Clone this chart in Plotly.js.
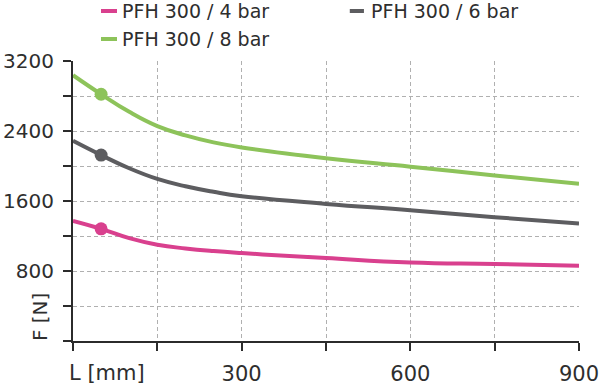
<!DOCTYPE html>
<html>
<head>
<meta charset="utf-8">
<script src="https://cdn.plot.ly/plotly-3.0.1.min.js"></script>
<style>html,body{margin:0;padding:0;background:#fff;}#chart{width:600px;height:387px;}</style>
</head>
<body>
<div id="chart"></div>
<script>
// Data
const lengthsMm = [0, 50, 100, 150, 200, 250, 300, 450, 600, 750, 900];
const force4bar = [1373, 1282, 1175, 1100, 1058, 1028, 1005, 948, 897, 880, 860];
const force6bar = [2288, 2125, 1974, 1852, 1768, 1705, 1655, 1567, 1495, 1415, 1343];
const force8bar = [3037, 2820, 2619, 2456, 2350, 2270, 2212, 2088, 1992, 1892, 1798];
const seriesNames = ['PFH 300 / 4 bar', 'PFH 300 / 6 bar', 'PFH 300 / 8 bar'];
const markerLength = 50;
const xTickVals = [0, 150, 300, 450, 600, 750, 900];
const xTickText = ['', '', '300', '', '600', '', '900'];
const yTickVals = [0, 400, 800, 1200, 1600, 2000, 2400, 2800, 3200];
const yTickText = ['', '', '800', '', '1600', '', '2400', '', '3200'];
const xTitle = 'L [mm]';
const yTitle = 'F [N]';

const colors = ['#d9408e', '#5d5d60', '#8dc35a'];
const allSeries = [force4bar, force6bar, force8bar];
const FONT = '"DejaVu Sans", sans-serif';
const TXT = '#2e2e2e';
const AX = '#2b2b2b';

const traces = [];
allSeries.forEach((ys, i) => {
  traces.push({
    x: lengthsMm, y: ys, type: 'scatter', mode: 'lines',
    line: {color: colors[i], width: 4, shape: 'spline', smoothing: 1.3},
    showlegend: false, hoverinfo: 'skip'
  });
});
allSeries.forEach((ys, i) => {
  const idx = lengthsMm.indexOf(markerLength);
  traces.push({
    x: [lengthsMm[idx]], y: [ys[idx]], type: 'scatter', mode: 'markers',
    marker: {color: colors[i], size: 13},
    showlegend: false, hoverinfo: 'skip', cliponaxis: false
  });
});

// custom legend positions (paper coords)
const legendPos = [
  {sx0: 0.0553, sx1: 0.087, tx: 0.0935, y: 1.1786},
  {sx0: 0.547, sx1: 0.575, tx: 0.584, y: 1.1786},
  {sx0: 0.0553, sx1: 0.087, tx: 0.0935, y: 1.0786}
];
const shapes = [];
const annotations = [];
seriesNames.forEach((name, i) => {
  const p = legendPos[i];
  shapes.push({type: 'line', xref: 'paper', yref: 'paper', x0: p.sx0, x1: p.sx1, y0: p.y, y1: p.y,
    line: {color: colors[i], width: 4}});
  annotations.push({xref: 'paper', yref: 'paper', x: p.tx, y: p.y, xanchor: 'left', yanchor: 'middle',
    text: name, showarrow: false, font: {family: FONT, size: 19, color: TXT}});
});
annotations.push({xref: 'paper', yref: 'paper', x: -0.012, y: 0, xanchor: 'left', yanchor: 'top', yshift: -18,
  text: xTitle, showarrow: false, font: {family: FONT, size: 21, color: TXT}});
annotations.push({xref: 'paper', yref: 'paper', x: -0.065, y: 0.0857, xanchor: 'center', yanchor: 'middle',
  textangle: -90, text: yTitle, showarrow: false, font: {family: FONT, size: 20, color: TXT}});

const layout = {
  width: 600, height: 387,
  margin: {l: 73, r: 21, t: 61, b: 46, pad: 0},
  paper_bgcolor: '#fff', plot_bgcolor: '#fff',
  showlegend: false,
  font: {family: FONT, size: 21, color: TXT},
  xaxis: {
    range: [0, 900], tickvals: xTickVals, ticktext: xTickText,
    showline: true, linecolor: AX, linewidth: 2,
    ticks: 'outside', ticklen: 8, tickwidth: 2, tickcolor: AX,
    showgrid: true, gridcolor: '#b0b0b0', gridwidth: 1, griddash: '4px,3px',
    zeroline: false, ticklabelstandoff: 5, fixedrange: true
  },
  yaxis: {
    range: [0, 3200], tickvals: yTickVals, ticktext: yTickText,
    tickfont: {family: FONT, size: 20, color: TXT},
    showline: true, linecolor: AX, linewidth: 2,
    ticks: 'outside', ticklen: 8, tickwidth: 2, tickcolor: AX,
    showgrid: true, gridcolor: '#b0b0b0', gridwidth: 1, griddash: '4px,3px',
    zeroline: false, ticklabelstandoff: 5, fixedrange: true
  },
  shapes: shapes,
  annotations: annotations
};

Plotly.newPlot('chart', traces, layout, {displayModeBar: false, staticPlot: true});
</script>
</body>
</html>
